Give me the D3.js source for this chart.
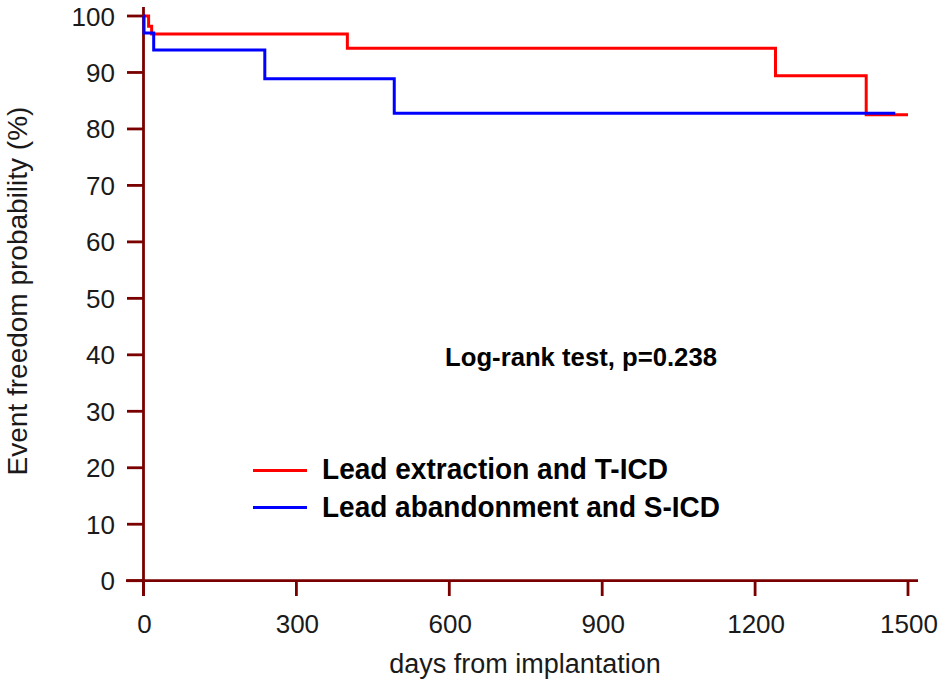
<!DOCTYPE html>
<html>
<head>
<meta charset="utf-8">
<script src="https://cdn.jsdelivr.net/npm/d3@7"></script>
<style>
body { margin: 0; background: #fff; }
</style>
</head>
<body>
<svg class="visual" width="945" height="687"></svg>
<script>
// Kaplan-Meier steps (day, survival %)
const extractionDays = [0, 10, 16, 400, 1240, 1418, 1500];
const extractionVals = [100, 98.2, 96.8, 94.3, 89.4, 82.5, 82.5];
const abandonDays = [0, 1, 20, 238, 492, 1475];
const abandonVals = [100, 97.0, 94.0, 88.9, 82.8, 82.8];

const xTicks = [0, 300, 600, 900, 1200, 1500];
const yTicks = [0, 10, 20, 30, 40, 50, 60, 70, 80, 90, 100];

const seriesNames = ["Lead extraction and T-ICD", "Lead abandonment and S-ICD"];
const seriesColors = ["#ff0000", "#0000ff"];

const axisColor = "#7a0000";
const plainFont = "'Liberation Sans', Arial, sans-serif";
const boldFont = "'Liberation Sans Narrow', 'Liberation Sans', sans-serif";
const svg = d3.select(".visual");

const x = d3.scaleLinear().domain([0, 1500]).range([143.5, 908]);
const y = d3.scaleLinear().domain([0, 100]).range([580.7, 16]);

// axis lines, drawn by hand so they overshoot like the original
svg.append("line")
    .attr("x1", x(0)).attr("x2", x(0))
    .attr("y1", 7).attr("y2", 596)
    .attr("stroke", axisColor).attr("stroke-width", 2.8);
svg.append("line")
    .attr("x1", 126).attr("x2", 918)
    .attr("y1", y(0)).attr("y2", y(0))
    .attr("stroke", axisColor).attr("stroke-width", 2.8);

// y ticks
const yAxis = svg.append("g");
yAxis.selectAll("line")
    .data(yTicks)
    .join("line")
    .attr("x1", 127).attr("x2", x(0))
    .attr("y1", d => y(d)).attr("y2", d => y(d))
    .attr("stroke", axisColor).attr("stroke-width", 2.8);
yAxis.selectAll("text")
    .data(yTicks)
    .join("text")
    .attr("x", 115)
    .attr("y", d => y(d) + 9.5)
    .attr("text-anchor", "end")
    .style("font-family", plainFont)
    .style("font-size", "26px")
    .attr("fill", "#1a1a1a")
    .text(d => d);

// x ticks
const xAxis = svg.append("g");
xAxis.selectAll("line")
    .data(xTicks)
    .join("line")
    .attr("x1", d => x(d)).attr("x2", d => x(d))
    .attr("y1", y(0)).attr("y2", 596)
    .attr("stroke", axisColor).attr("stroke-width", 2.8);
xAxis.selectAll("text")
    .data(xTicks)
    .join("text")
    .attr("x", d => x(d) + 1)
    .attr("y", 633)
    .attr("text-anchor", "middle")
    .style("font-family", plainFont)
    .style("font-size", "26px")
    .attr("fill", "#1a1a1a")
    .text(d => d);

// axis titles
svg.append("text")
    .attr("x", 525).attr("y", 673)
    .attr("text-anchor", "middle")
    .style("font-family", plainFont)
    .style("font-size", "27px")
    .attr("fill", "#1a1a1a")
    .text("days from implantation");

svg.append("text")
    .attr("transform", "translate(27,291) rotate(-90)")
    .attr("text-anchor", "middle")
    .style("font-family", plainFont)
    .style("font-size", "28px")
    .attr("fill", "#1a1a1a")
    .text("Event freedom probability (%)");

// step curves
const line = d3.line()
    .x(d => x(d[0]))
    .y(d => y(d[1]))
    .curve(d3.curveStepAfter);

const curves = [
    d3.zip(extractionDays, extractionVals),
    d3.zip(abandonDays, abandonVals)
];

svg.selectAll("path.km")
    .data(curves)
    .join("path")
    .attr("class", "km")
    .attr("d", line)
    .attr("fill", "none")
    .attr("stroke", (d, i) => seriesColors[i])
    .attr("stroke-width", 3);

// test annotation
svg.append("text")
    .attr("x", 445).attr("y", 366)
    .attr("textLength", 272)
    .attr("lengthAdjust", "spacingAndGlyphs")
    .style("font-family", boldFont)
    .style("font-size", "25px")
    .style("font-weight", "bold")
    .attr("fill", "#000")
    .text("Log-rank test, p=0.238");

// legend
const legendWidths = [346, 398];
const legend = svg.append("g");
legend.selectAll("line")
    .data(seriesNames)
    .join("line")
    .attr("x1", 253).attr("x2", 307)
    .attr("y1", (d, i) => 470.5 + i * 37)
    .attr("y2", (d, i) => 470.5 + i * 37)
    .attr("stroke", (d, i) => seriesColors[i])
    .attr("stroke-width", 3);
legend.selectAll("text")
    .data(seriesNames)
    .join("text")
    .attr("x", 322)
    .attr("y", (d, i) => 479 + i * 38)
    .attr("textLength", (d, i) => legendWidths[i])
    .attr("lengthAdjust", "spacingAndGlyphs")
    .style("font-family", boldFont)
    .style("font-size", "29px")
    .style("font-weight", "bold")
    .attr("fill", "#000")
    .text(d => d);
</script>
</body>
</html>
